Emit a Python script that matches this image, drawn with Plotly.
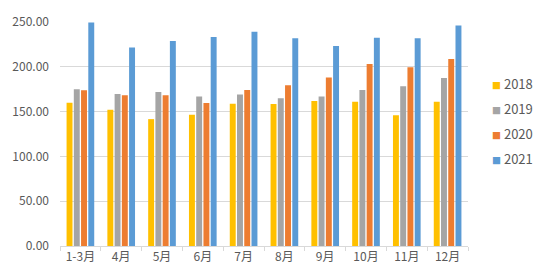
import plotly.graph_objects as go

categories = ["1-3月", "4月", "5月", "6月", "7月", "8月", "9月", "10月", "11月", "12月"]
series_names = ["2018", "2019", "2020", "2021"]
v2018 = [160.0, 152.0, 141.6, 146.6, 158.9, 158.5, 161.8, 161.0, 145.9, 161.0]
v2019 = [175.0, 169.7, 171.9, 166.9, 169.0, 165.0, 166.9, 174.0, 178.4, 187.4]
v2020 = [173.7, 168.3, 168.3, 159.6, 174.0, 179.4, 188.0, 203.0, 199.4, 208.7]
v2021 = [249.5, 221.6, 228.9, 233.2, 239.0, 231.8, 223.2, 232.5, 231.8, 246.2]
colors = ["#FFC000", "#A5A5A5", "#ED7D31", "#5B9BD5"]
y_ticks = [0, 50, 100, 150, 200, 250]

fig = go.Figure()
for name, vals, c in zip(series_names, [v2018, v2019, v2020, v2021], colors):
    fig.add_trace(go.Bar(x=categories, y=vals, name=name, marker=dict(color=c, line=dict(width=0)),
                         showlegend=False))

# Excel-style compact legend built from annotations
legend_y = [0.725, 0.6125, 0.504, 0.392]
for name, c, ly in zip(series_names, colors, legend_y):
    fig.add_annotation(xref="paper", yref="paper", x=1.055, y=ly, xanchor="left", yanchor="middle",
                       showarrow=False,
                       text=f'<span style="color:{c};font-size:9px">■</span> {name}',
                       font=dict(size=13, color="#595959"))

font = "Noto Sans CJK SC"
fig.update_layout(
    width=541, height=277,
    margin=dict(l=56, r=73, t=15.5, b=30.5),
    paper_bgcolor="white", plot_bgcolor="white",
    barmode="group", bargap=0.29, bargroupgap=0.18,
    font=dict(family=font, size=12, color="#595959"),
    showlegend=False,
    xaxis=dict(showline=True, linecolor="#D9D9D9", linewidth=1, ticks="outside", tickson="boundaries",
               ticklen=4, tickcolor="#D9D9D9", tickangle=0, tickfont=dict(size=12, color="#595959")),
    yaxis=dict(range=[0, 250], tickvals=y_ticks, ticktext=[f"{v:.2f}" for v in y_ticks],
               showgrid=True, gridcolor="#D9D9D9", gridwidth=1, zeroline=False,
               ticks="", ticklabelstandoff=10, tickfont=dict(size=12, color="#595959")),
)
fig.write_html("out.html")
